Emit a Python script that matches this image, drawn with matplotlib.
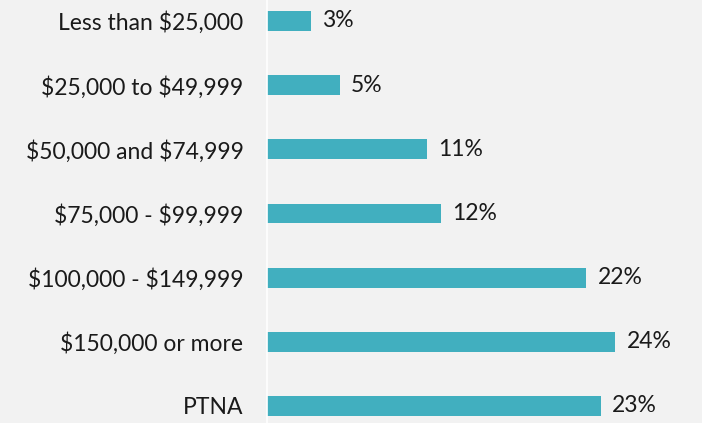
import matplotlib.pyplot as plt

plt.rcParams['font.family'] = ['Lato', 'DejaVu Sans']
plt.rcParams['text.parse_math'] = False

categories = [
    "Less than $25,000",
    "$25,000 to $49,999",
    "$50,000 and $74,999",
    "$75,000 - $99,999",
    "$100,000 - $149,999",
    "$150,000 or more",
    "PTNA",
]
values = [3, 5, 11, 12, 22, 24, 23]
labels = ["3%", "5%", "11%", "12%", "22%", "24%", "23%"]

bg = "#f2f2f2"
bar_color = "#41afbf"
text_color = "#1a1a1a"

fig = plt.figure(figsize=(7.02, 4.23), dpi=100, facecolor=bg)
ax = fig.add_axes([267 / 702, 0, 435 / 702, 1], facecolor=bg)

ypos = list(range(len(categories)))
ax.barh(ypos, values, height=0.31, color=bar_color)

for y, v, lab in zip(ypos, values, labels):
    ax.text(v + 0.8, y, lab, va="center", ha="left", fontsize=16.5, color=text_color)

ax.set_xlim(0, 30)
ax.set_ylim(6.265, -0.327)
ax.set_yticks(ypos)
ax.set_yticklabels(categories, fontsize=16.5, color=text_color)
ax.tick_params(axis="y", length=0, pad=17)
ax.set_xticks([])

for side in ["top", "right", "bottom"]:
    ax.spines[side].set_visible(False)
ax.spines["left"].set_color("white")
ax.spines["left"].set_linewidth(1.2)

fig.savefig("out.png", dpi=100, facecolor=bg)
